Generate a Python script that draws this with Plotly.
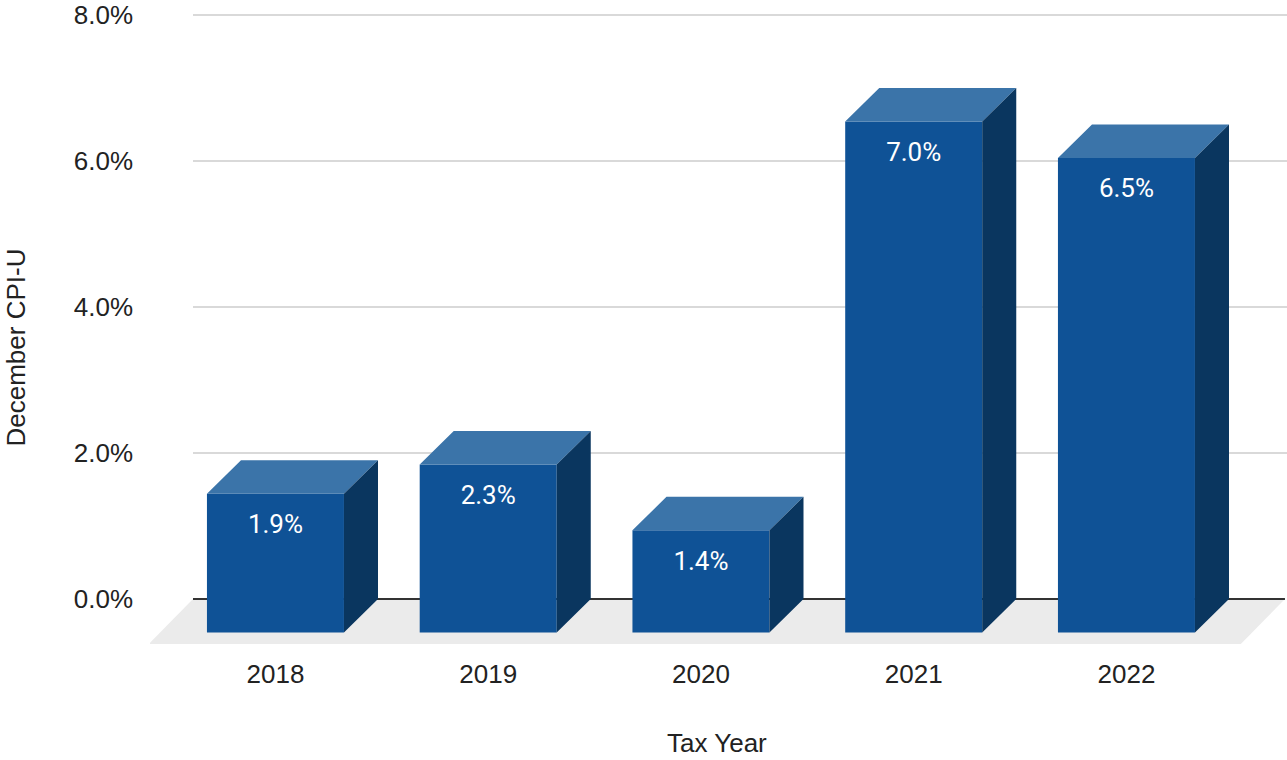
import plotly.graph_objects as go

# ---- data ----
years = ["2018", "2019", "2020", "2021", "2022"]
cpi = [1.9, 2.3, 1.4, 7.0, 6.5]
y_ticks = [0, 2, 4, 6, 8]
y_tick_labels = ["0.0%", "2.0%", "4.0%", "6.0%", "8.0%"]
x_title = "Tax Year"
y_title = "December CPI-U"

# ---- geometry / style ----
W, H = 1287, 760
ML, MR, MT, MB = 150, 0, 14, 115
X_RANGE = [-0.7497, 4.5946]
Y_RANGE = [-0.630, 8.0137]
BAR_W = 0.644          # front-face width (category units)
DDX, DDY = 0.160, 0.459  # bar depth offset
FDX, FDY = 0.2073, 0.616  # floor depth
FLOOR_LEFT = -0.5476
FLOOR_RIGHT = 4.585
LABEL_DROP = 0.45

FRONT = "#0F5296"
TOP = "#3B74A9"
SIDE = "#0A365F"
FLOOR = "#EBEBEB"
GRID = "#CCCCCC"
ZERO = "#333333"
TXT = "#222222"

xs = list(range(len(years)))

fig = go.Figure()

# front faces
fig.add_trace(go.Bar(
    x=[i - DDX for i in xs], y=cpi, base=-DDY, width=BAR_W,
    marker=dict(color=FRONT, line=dict(width=0)),
    hoverinfo="skip", showlegend=False,
))

# top faces and side faces
top_x, top_y, side_x, side_y = [], [], [], []
for i, v in zip(xs, cpi):
    fl, fr = i - DDX - BAR_W / 2, i - DDX + BAR_W / 2
    bl, br = fl + DDX, fr + DDX
    ft, bt = v - DDY, v
    fb, bb = -DDY, 0
    top_x += [fl, fr, br, bl, fl, None]
    top_y += [ft, ft, bt, bt, ft, None]
    side_x += [fr, br, br, fr, fr, None]
    side_y += [ft, bt, bb, fb, ft, None]

fig.add_trace(go.Scatter(x=top_x, y=top_y, mode="lines", fill="toself",
                         fillcolor=TOP, line=dict(width=0, color=TOP),
                         hoverinfo="skip", showlegend=False))
fig.add_trace(go.Scatter(x=side_x, y=side_y, mode="lines", fill="toself",
                         fillcolor=SIDE, line=dict(width=0, color=SIDE),
                         hoverinfo="skip", showlegend=False))

# value labels
fig.add_trace(go.Scatter(
    x=[i - DDX for i in xs], y=[v - DDY - LABEL_DROP for v in cpi],
    mode="text", text=[f"{v:.1f}%" for v in cpi],
    textfont=dict(family="Roboto", size=26, color="#FFFFFF"),
    hoverinfo="skip", showlegend=False,
))

shapes = []
# floor
shapes.append(dict(
    type="path", xref="x", yref="y", layer="below",
    path=(f"M {FLOOR_LEFT},0 L {FLOOR_RIGHT},0 "
          f"L {FLOOR_RIGHT - FDX},{-FDY} L {FLOOR_LEFT - FDX},{-FDY} Z"),
    fillcolor=FLOOR, line=dict(width=0),
))
# gridlines
for t in y_ticks:
    if t == 0:
        continue
    shapes.append(dict(type="line", xref="x", yref="y", layer="below",
                       x0=FLOOR_LEFT, x1=X_RANGE[1] + 0.5, y0=t, y1=t,
                       line=dict(color=GRID, width=1.3)))
# zero line
shapes.append(dict(type="line", xref="x", yref="y", layer="below",
                   x0=FLOOR_LEFT, x1=FLOOR_RIGHT, y0=0, y1=0,
                   line=dict(color=ZERO, width=2)))

fig.update_layout(
    width=W, height=H, autosize=False,
    margin=dict(l=ML, r=MR, t=MT, b=MB, pad=0),
    paper_bgcolor="white", plot_bgcolor="white",
    shapes=shapes, showlegend=False, hovermode=False,
    font=dict(family="Liberation Sans, Arial", size=26, color=TXT),
    xaxis=dict(range=X_RANGE, tickmode="array",
               tickvals=[i - DDX for i in xs], ticktext=years,
               showgrid=False, zeroline=False, showline=False, ticks="",
               ticklabelstandoff=11, automargin=False, fixedrange=True),
    yaxis=dict(range=Y_RANGE, tickmode="array",
               tickvals=y_ticks, ticktext=y_tick_labels,
               showgrid=False, zeroline=False, showline=False, ticks="",
               ticklabelstandoff=16, automargin=False, fixedrange=True),
    annotations=[
        dict(text=y_title, xref="paper", yref="paper",
             x=(15 - ML) / (W - ML - MR), y=(H - MB - 347.5) / (H - MT - MB),
             xanchor="center", yanchor="middle", textangle=-90,
             showarrow=False, font=dict(size=26, color=TXT)),
        dict(text=x_title, xref="paper", yref="paper",
             x=(717 - ML) / (W - ML - MR), y=(H - MB - 743) / (H - MT - MB),
             xanchor="center", yanchor="middle",
             showarrow=False, font=dict(size=26, color=TXT)),
    ],
)

fig.write_html("out.html")
